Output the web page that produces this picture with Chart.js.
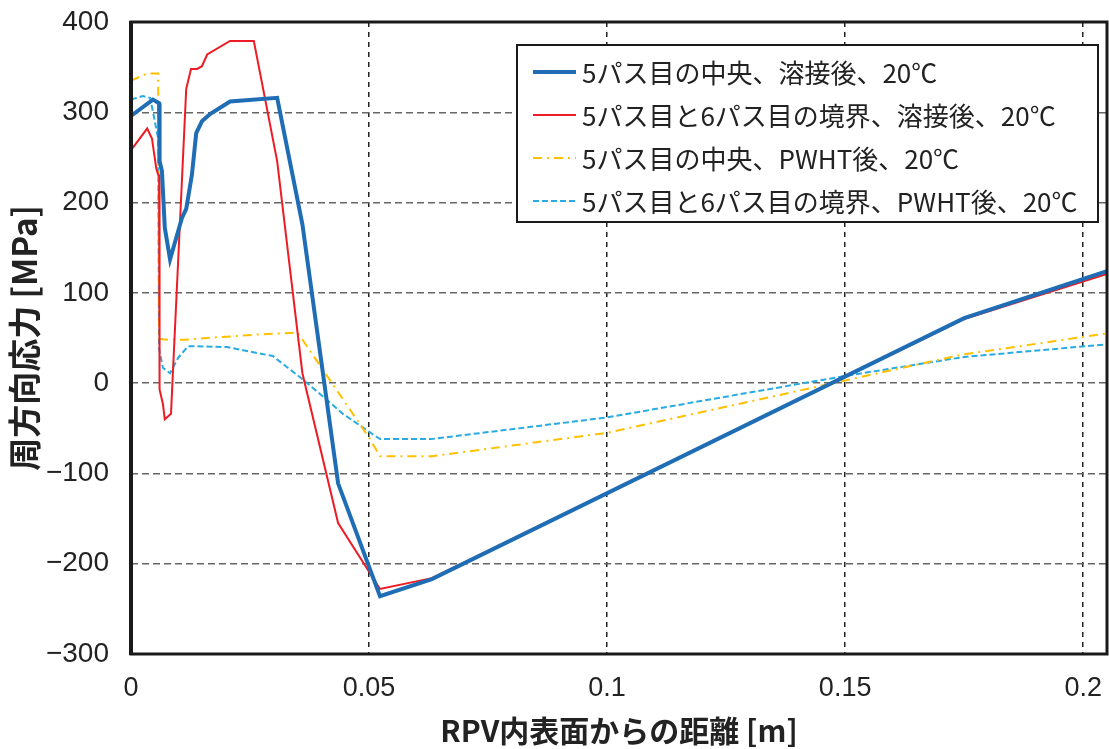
<!DOCTYPE html>
<html>
<head>
<meta charset="utf-8">
<script src="https://cdn.jsdelivr.net/npm/chart.js@4"></script>
<style>
  html, body { margin: 0; padding: 0; background: #fff; }
  #wrap { width: 1109px; height: 749px; }
</style>
</head>
<body>
<div id="wrap"><canvas id="chart" width="1109" height="749"></canvas></div>
<script>
// distance from RPV inner surface [m] and hoop stress [MPa]
const centerWeldX = [0, 0.0046, 0.0059, 0.006, 0.0065, 0.0071, 0.0082, 0.0107, 0.0116, 0.0128, 0.0137, 0.0149, 0.0166, 0.0208, 0.0307, 0.036, 0.0435, 0.0523, 0.0632, 0.175, 0.205];
const centerWeldY = [296, 314, 310, 246, 235, 172, 137, 183, 193, 231, 277, 290, 298, 312, 316, 176, -111, -236, -217, 72, 124];

const boundaryWeldX = [0, 0.0034, 0.0044, 0.0053, 0.0057, 0.0059, 0.006, 0.0067, 0.0071, 0.0084, 0.0116, 0.0126, 0.0139, 0.0149, 0.016, 0.0208, 0.0258, 0.0307, 0.036, 0.0435, 0.0523, 0.0632, 0.175, 0.205];
const boundaryWeldY = [258, 282, 271, 238, 231, 230, -7, -23, -40, -34, 326, 348, 348, 351, 364, 379, 379, 246, 11, -155, -228, -216, 71, 121];

const centerPwhtX = [0, 0.0034, 0.0057, 0.0059, 0.0078, 0.011, 0.016, 0.0271, 0.035, 0.0502, 0.0523, 0.0632, 0.1, 0.126, 0.15, 0.175, 0.205];
const centerPwhtY = [335, 343, 343, 49, 48, 48, 50, 54, 56, -62, -81, -81, -55, -25, 3, 32, 55];

const boundaryPwhtX = [0, 0.0025, 0.004, 0.0046, 0.0057, 0.0059, 0.0067, 0.0082, 0.0099, 0.012, 0.0202, 0.0298, 0.0361, 0.0397, 0.0445, 0.0523, 0.063, 0.1, 0.126, 0.15, 0.175, 0.205];
const boundaryPwhtY = [314, 318, 316, 301, 271, 38, 17, 11, 28, 41, 40, 30, 4, -12, -34, -62, -62, -38, -14, 8, 29, 43];

const seriesLabels = [
  '5パス目の中央、溶接後、20℃',
  '5パス目と6パス目の境界、溶接後、20℃',
  '5パス目の中央、PWHT後、20℃',
  '5パス目と6パス目の境界、PWHT後、20℃'
];
const xTicks = [0, 0.05, 0.1, 0.15, 0.2];
const yTicks = [-300, -200, -100, 0, 100, 200, 300, 400];

function toPoints(xs, ys) {
  const pts = [];
  for (let i = 0; i < xs.length; i++) {
    pts.push({ x: xs[i], y: ys[i] });
  }
  return pts;
}

const datasets = [
  { label: seriesLabels[0], data: toPoints(centerWeldX, centerWeldY), borderColor: '#1f6db5', borderWidth: 4, borderDash: [] },
  { label: seriesLabels[1], data: toPoints(boundaryWeldX, boundaryWeldY), borderColor: '#ed1c24', borderWidth: 2, borderDash: [] },
  { label: seriesLabels[2], data: toPoints(centerPwhtX, centerPwhtY), borderColor: '#ffc000', borderWidth: 2, borderDash: [9, 5, 2, 5] },
  { label: seriesLabels[3], data: toPoints(boundaryPwhtX, boundaryPwhtY), borderColor: '#29abe2', borderWidth: 2, borderDash: [6, 3] }
].map(function(d) {
  return Object.assign(d, { pointRadius: 0, fill: false, tension: 0, order: 0 });
});
// draw the thick blue line on top of the others
datasets[0].order = -1;

// frame around the plot area
const framePlugin = {
  id: 'frame',
  afterDatasetsDraw(chart) {
    const a = chart.chartArea;
    const ctx = chart.ctx;
    ctx.save();
    ctx.strokeStyle = '#1a1a1a';
    ctx.lineWidth = 3;
    ctx.setLineDash([]);
    ctx.strokeRect(a.left, a.top, a.right - a.left, a.bottom - a.top);
    ctx.lineWidth = 4;
    ctx.beginPath();
    ctx.moveTo(a.left, a.top - 1);
    ctx.lineTo(a.left, a.bottom + 1);
    ctx.stroke();
    ctx.restore();
  }
};

// legend box drawn inside the plot, upper right
const legendPlugin = {
  id: 'boxLegend',
  afterDraw(chart) {
    const ctx = chart.ctx;
    const box = { x: 517, y: 45, w: 581, h: 177 };
    ctx.save();
    ctx.fillStyle = '#fff';
    ctx.fillRect(box.x, box.y, box.w, box.h);
    ctx.strokeStyle = '#1a1a1a';
    ctx.lineWidth = 2;
    ctx.setLineDash([]);
    ctx.strokeRect(box.x, box.y, box.w, box.h);
    ctx.font = '26px "Noto Sans CJK JP", sans-serif';
    ctx.textBaseline = 'middle';
    ctx.fillStyle = '#222';
    chart.data.datasets.forEach(function(ds, i) {
      const rowY = 72 + i * 43;
      ctx.strokeStyle = ds.borderColor;
      ctx.lineWidth = ds.borderWidth;
      ctx.setLineDash(ds.borderDash);
      ctx.beginPath();
      ctx.moveTo(533, rowY);
      ctx.lineTo(576, rowY);
      ctx.stroke();
      ctx.fillText(ds.label, 582, rowY + 1);
    });
    ctx.restore();
  }
};

const ctx = document.getElementById('chart').getContext('2d');
new Chart(ctx, {
  type: 'line',
  data: { datasets: datasets },
  options: {
    responsive: false,
    animation: false,
    layout: { padding: { left: 0, right: 2, top: 22, bottom: 0 } },
    plugins: {
      legend: { display: false },
      tooltip: { enabled: false }
    },
    scales: {
      x: {
        type: 'linear',
        min: 0,
        max: 0.205,
        afterBuildTicks(scale) {
          scale.ticks = xTicks.map(function(v) { return { value: v }; });
        },
        afterFit(scale) {
          scale.height = 95;
          scale.paddingLeft = 0;
          scale.paddingRight = 0;
        },
        ticks: {
          padding: 18,
          color: '#222',
          font: { family: '"Liberation Sans Narrow", "Arial Narrow", "Liberation Sans", sans-serif', size: 27 },
          callback: function(v) { return String(v); },
          maxRotation: 0
        },
        grid: { color: '#222', lineWidth: 1.5, drawTicks: false, tickLength: 0 },
        border: { display: false, dash: [5, 5] },
        title: {
          display: true,
          text: 'RPV内表面からの距離 [m]',
          color: '#222',
          font: { family: '"Noto Sans CJK JP", sans-serif', size: 30, weight: 'bold' },
          padding: { top: 4, bottom: 0 }
        }
      },
      y: {
        type: 'linear',
        min: -300,
        max: 400,
        afterBuildTicks(scale) {
          scale.ticks = yTicks.map(function(v) { return { value: v }; });
        },
        afterFit(scale) {
          scale.width = 131;
          scale.paddingTop = 0;
          scale.paddingBottom = 0;
        },
        ticks: {
          padding: 22,
          color: '#222',
          font: { family: '"Liberation Sans", sans-serif', size: 28 },
          callback: function(v) { return v < 0 ? '\u2212' + Math.abs(v) : String(v); }
        },
        grid: { color: '#666', lineWidth: 1.5, drawTicks: false, tickLength: 0 },
        border: { display: false, dash: [7, 4] },
        title: {
          display: true,
          text: '周方向応力 [MPa]',
          color: '#222',
          font: { family: '"Noto Sans CJK JP", sans-serif', size: 33, weight: 'bold' },
          padding: { top: 5, bottom: 0 }
        }
      }
    }
  },
  plugins: [framePlugin, legendPlugin]
});
</script>
</body>
</html>
